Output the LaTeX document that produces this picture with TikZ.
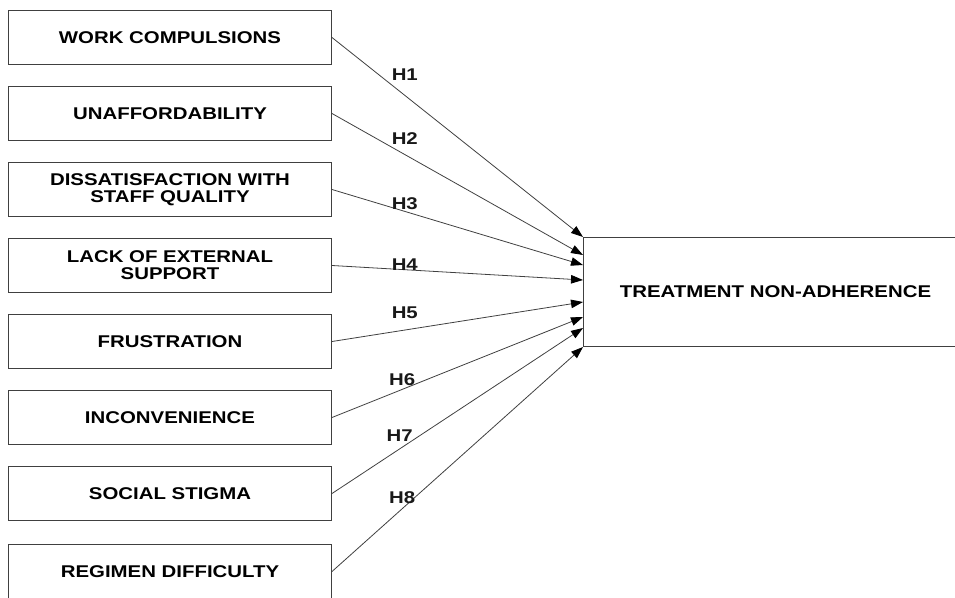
\documentclass[tikz,border=0pt]{standalone}
\usepackage{fontspec}
\setmainfont[FakeStretch=1.2]{Liberation Sans}
\usepackage{tikz}
\usetikzlibrary{arrows.meta,positioning}

\begin{document}
\begin{tikzpicture}[
    x=1pt, y=-1pt,
    node distance=21pt,
    every node/.style={
        font=\fontsize{17}{17}\selectfont\bfseries,
        align=center
    },
    factor/.style={
        draw=black!75, line width=1pt,
        minimum width=323pt, minimum height=54pt,
        inner sep=0pt
    },
    hlab/.style={inner sep=0pt, text=black!90},
    link/.style={
        draw=black!75, line width=0.8pt,
        -{Triangle[length=12pt,width=8.5pt,fill=black,color=black]}
    }
]
\clip (0,0) rectangle (955,597);

% causes
\node[factor, anchor=north west] (work) at (8,10) {WORK COMPULSIONS};
\node[factor, below=of work] (cost) {UNAFFORDABILITY};
\node[factor, below=of cost] (staff) {DISSATISFACTION WITH\\STAFF QUALITY};
\node[factor, below=of staff] (support) {LACK OF EXTERNAL\\SUPPORT};
\node[factor, below=of support] (frust) {FRUSTRATION};
\node[factor, below=of frust] (incon) {INCONVENIENCE};
\node[factor, below=of incon] (stigma) {SOCIAL STIGMA};
\node[factor, below=23pt of stigma] (regimen) {REGIMEN DIFFICULTY};

% outcome
\node[factor, anchor=north west, minimum width=384pt, minimum height=109pt]
    (tna) at (583,237) {TREATMENT NON-ADHERENCE};

% hypotheses
\draw[link] (work.east) -- node[hlab, pos=.29, yshift=21pt] (h1) {H1} (tna.north west);
\draw[link] (cost.east) -- node[hlab, pos=.29, yshift=16pt] (h2) {H2} ([yshift=-18pt]tna.north west);
\draw[link] (staff.east) -- node[hlab, pos=.29, yshift=8pt] (h3) {H3} ([yshift=-28pt]tna.north west);
\draw[link] (support.east) -- node[hlab, pos=.29, yshift=5pt] (h4) {H4} ([yshift=-43pt]tna.north west);
\draw[link] (frust.east) -- node[hlab, pos=.29, yshift=17pt] (h5) {H5} ([yshift=-65pt]tna.north west);
\draw[link] (incon.east) -- node[hlab, pos=.28, yshift=10pt] (h6) {H6} ([yshift=-80pt]tna.north west);
\draw[link] (stigma.east) -- node[hlab, pos=.27, yshift=13pt] (h7) {H7} ([yshift=-91pt]tna.north west);
\draw[link] (regimen.east) -- node[hlab, pos=.28, yshift=11pt] (h8) {H8} (tna.south west);
\end{tikzpicture}
\end{document}
